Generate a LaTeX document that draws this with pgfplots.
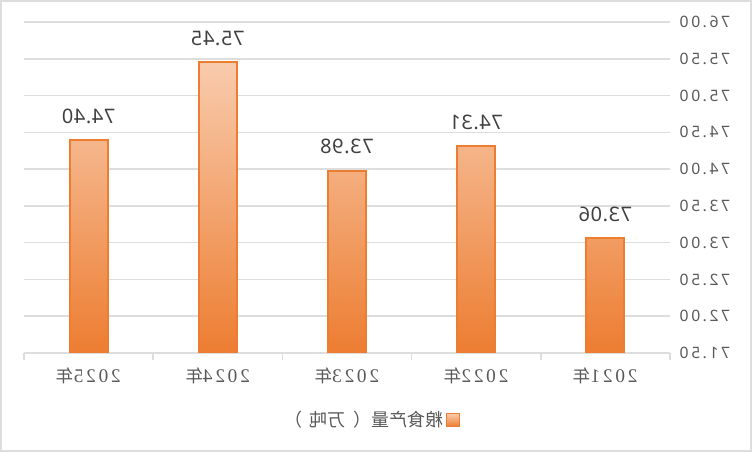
\documentclass[border=0pt]{standalone}
\usepackage{pgfplots}
\pgfplotsset{compat=1.18}
\usepackage{pgfplotstable}
\usepackage{graphicx}
\usepackage{fontspec}
\setmainfont{Noto Sans CJK SC}
\newfontfamily\cjk{Noto Sans CJK SC}
\newfontfamily\tickfont[LetterSpace=16]{Noto Sans}
\newfontfamily\datafont[LetterSpace=3]{Noto Sans}
\newfontfamily\catfont[LetterSpace=14]{Liberation Serif}

\definecolor{barorange}{HTML}{ED7D31}
\definecolor{barlight}{HTML}{F8CBAD}
\definecolor{gridgray}{HTML}{DDDDDD}
\definecolor{labelgray}{HTML}{595959}
\definecolor{datagray}{HTML}{404040}

% grain output (10k t); the chart is drawn mirrored, 2025 on the left
\pgfplotstableread{
x y
0 73.06
1 74.31
2 73.98
3 75.45
4 74.40
}\grain

\newcommand{\yearlab}[1]{\reflectbox{{\catfont\fontsize{14.5pt}{16pt}\selectfont #1}{\cjk 年}}}

\begin{document}
\begin{tikzpicture}
    \useasboundingbox (0,0) rectangle (564pt,339pt);
    \draw[gridgray, line width=1.5pt] (0.75pt,0.75pt) rectangle (563.25pt,338.25pt);
    \begin{axis}[%
        at={(18pt,74.25pt)},
        anchor=south west,
        scale only axis,
        width=484.5pt,
        height=248.25pt,
        x dir=reverse,
        xmin=-0.5, xmax=4.5,
        ymin=0, ymax=4.5,
        axis x line*=bottom,
        axis y line*=right,
        x axis line style={-, draw=gridgray, line width=1.1pt},
        y axis line style={draw=none},
        xtick={0,...,4},
        xticklabels={\yearlab{2021},\yearlab{2022},\yearlab{2023},\yearlab{2024},\yearlab{2025}},
        minor xtick={-0.5,0.5,...,4.5},
        major x tick style={draw=none},
        minor x tick style={draw=gridgray, line width=1.1pt},
        minor tick length=5.25pt,
        tick align=outside,
        xticklabel style={font=\fontsize{13pt}{15pt}\selectfont, text=labelgray, yshift=-3pt},
        ytick={0,0.5,...,4.5},
        yticklabels={%
            \reflectbox{71.50},\reflectbox{72.00},\reflectbox{72.50},%
            \reflectbox{73.00},\reflectbox{73.50},\reflectbox{74.00},%
            \reflectbox{74.50},\reflectbox{75.00},\reflectbox{75.50},%
            \reflectbox{76.00}},
        ytick style={draw=none},
        yticklabel style={font=\tickfont\fontsize{11.8pt}{13pt}\selectfont, text=labelgray, xshift=-0.5pt},
        ymajorgrids,
        grid style={draw=gridgray, line width=1.1pt},
        ybar,
        bar width=28.5pt,
        legend plot pos=right,
        legend style={%
            draw=none, fill=none,
            at={(axis description cs:0.537,-0.2024)},
            anchor=center,
            font=\fontsize{13.5pt}{15pt}\selectfont,
            text=labelgray,
        },
    ]
    \addplot[%
        draw=barorange, line width=1.5pt,
        top color=barlight, bottom color=barorange,
        point meta=explicit,
        nodes near coords={\reflectbox{\pgfmathprintnumber[fixed,fixed zerofill,precision=2,assume math mode=true]{\pgfplotspointmeta}}},
        every node near coord/.append style={%
            anchor=base, inner sep=0pt, yshift=12.5pt,
            font=\datafont\fontsize{15pt}{17pt}\selectfont, text=datagray},
        legend image code/.code={%
            \draw[draw=barorange, line width=0.8pt, top color=barlight, bottom color=barorange]
                (0pt,-4.9pt) rectangle (9.75pt,4.9pt);},
    ] table[x=x, y expr=\thisrow{y}-71.5, meta=y] {\grain};
    \addlegendentry{\reflectbox{粮食产量（\hspace{0.4em}万吨\hspace{0.4em}）}}
    \end{axis}
\end{tikzpicture}
\end{document}
